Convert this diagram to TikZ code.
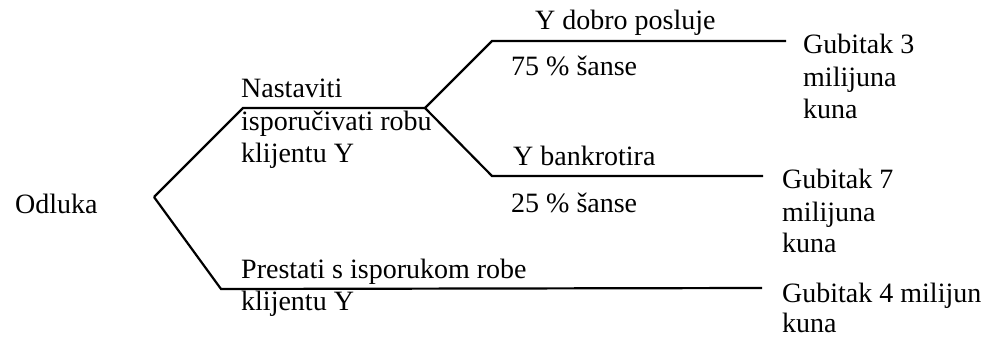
\documentclass[tikz,border=0pt]{standalone}
\usepackage{fontspec}
\setmainfont{Liberation Serif}
\begin{document}
\begin{tikzpicture}[x=1pt,y=-1pt,
  lbl/.style={anchor=base west,inner sep=0pt,font=\fontsize{28}{32}\selectfont},
  branch/.style={line width=2.2pt,line join=miter,black}]
\useasboundingbox (0,0) rectangle (985,337);
% points of the tree
\coordinate (root) at (154,197);
\coordinate (a1) at (243,108);
\coordinate (chance) at (425,108);
\coordinate (b1) at (492,41);
\coordinate (b2) at (786,41);
\coordinate (c1) at (492,176);
\coordinate (c2) at (763,176);
\coordinate (d1) at (221,289);
\coordinate (d2) at (762,288);
\draw[branch] (root) -- (a1) -- (chance);
\draw[branch] (chance) -- (b1) -- (b2);
\draw[branch] (chance) -- (c1) -- (c2);
\draw[branch] (root) -- (d1) -- (d2);
% labels
\node[lbl] (odl) at (15,213) {Odluka};
\node[lbl] (n1) at (241,97) {Nastaviti};
\node[lbl] (n2) at (241,130) {isporučivati robu};
\node[lbl] (n3) at (241,162) {klijentu Y};
\node[lbl] (p1) at (241,278) {Prestati s isporukom robe};
\node[lbl] (p2) at (241,310) {klijentu Y};
\node[lbl] (y1) at (535,30) {Y dobro posluje};
\node[lbl] (y2) at (511,76) {75 \% šanse};
\node[lbl] (k1) at (513,165) {Y bankrotira};
\node[lbl] (k2) at (511,212) {25 \% šanse};
\node[lbl] (g31) at (803,53) {Gubitak 3};
\node[lbl] (g32) at (803,86) {milijuna};
\node[lbl] (g33) at (803,118) {kuna};
\node[lbl] (g71) at (782,188) {Gubitak 7};
\node[lbl] (g72) at (782,221) {milijuna};
\node[lbl] (g73) at (782,252) {kuna};
\node[lbl] (g41) at (782,302) {Gubitak 4 milijun};
\node[lbl] (g42) at (782,332) {kuna};
\end{tikzpicture}
\end{document}
